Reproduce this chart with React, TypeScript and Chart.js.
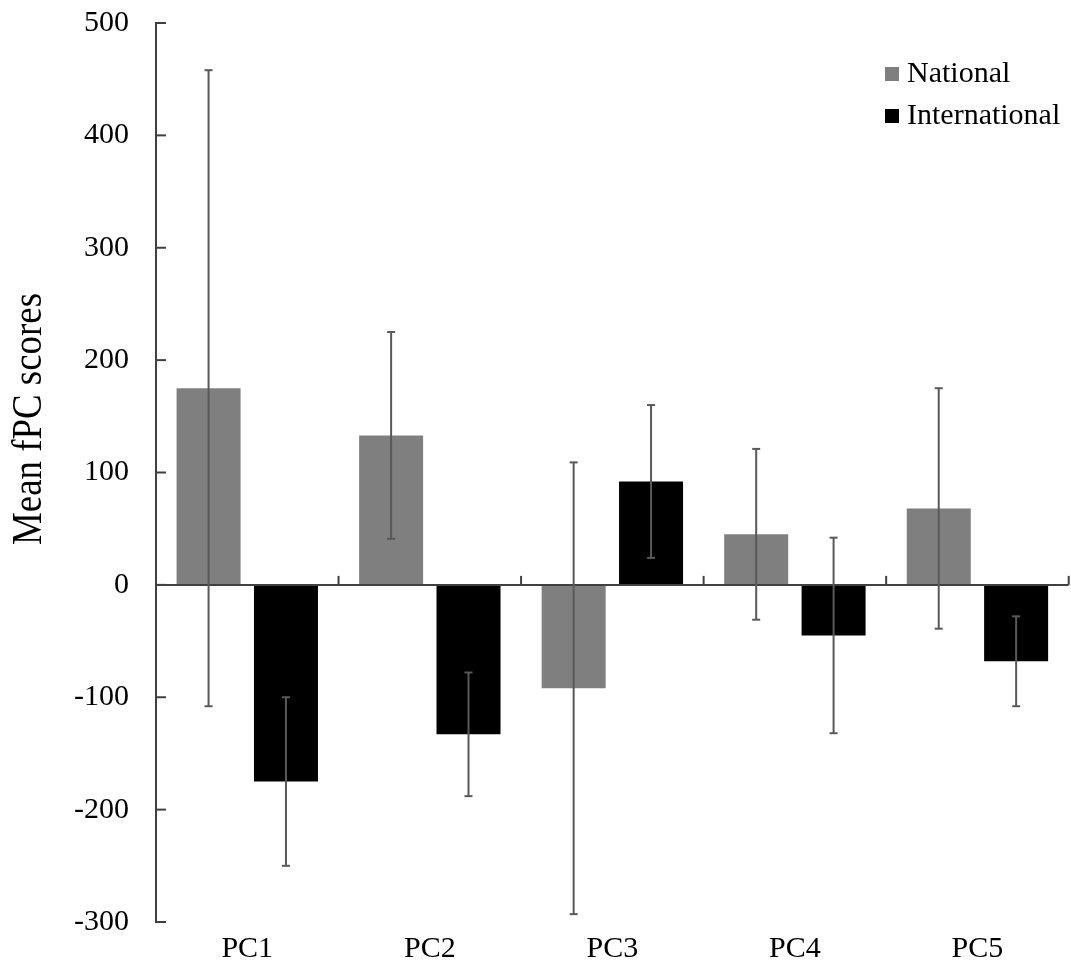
import React, { useEffect, useRef } from 'react';
import { Chart, registerables } from 'chart.js';

Chart.register(...registerables);

// Component scores per principal component
const categories = ['PC1', 'PC2', 'PC3', 'PC4', 'PC5'];
const seriesNames = ['National', 'International'];
const nationalMeans = [175, 133, -92, 45, 68];
const internationalMeans = [-175, -133, 92, -45, -68];
const nationalErrors = [283, 92, 201, 76, 107];
const internationalErrors = [75, 55, 68, 87, 40];
const yMin = -300;
const yMax = 500;
const yStep = 100;
const yTitle = 'Mean fPC scores';

const WIDTH = 1071;
const HEIGHT = 968;
const FONT = '"Liberation Serif", "Times New Roman", serif';
const AXIS_COLOR = '#404040';
const ERR_COLOR = '#595959';
const seriesColors = ['#7f7f7f', '#000000'];

const line = (ctx: CanvasRenderingContext2D, x1: number, y1: number, x2: number, y2: number) => {
  ctx.beginPath();
  ctx.moveTo(x1, y1);
  ctx.lineTo(x2, y2);
  ctx.stroke();
};

// Error bars, zero baseline, inward tick marks, legend and rotated axis title
const decorPlugin = {
  id: 'decor',
  afterDatasetsDraw(chart: any) {
    const { ctx, chartArea, scales } = chart;
    const x = scales.x;
    const y = scales.y;
    ctx.save();

    // zero baseline
    const y0 = y.getPixelForValue(0);
    ctx.strokeStyle = AXIS_COLOR;
    ctx.lineWidth = 2;
    line(ctx, chartArea.left, y0, chartArea.right, y0);

    // category boundary ticks pointing up from the baseline
    const half = (x.getPixelForValue(1) - x.getPixelForValue(0)) / 2;
    categories.forEach((_, i) => {
      const bx = x.getPixelForValue(i) + half;
      line(ctx, bx, y0, bx, y0 - 9);
    });

    // value-axis ticks pointing into the plot
    y.ticks.forEach((t: any) => {
      const py = y.getPixelForValue(t.value);
      line(ctx, chartArea.left, py, chartArea.left + 10, py);
    });

    // error bars
    ctx.strokeStyle = ERR_COLOR;
    ctx.lineWidth = 2;
    chart.data.datasets.forEach((ds: any, di: number) => {
      const meta = chart.getDatasetMeta(di);
      meta.data.forEach((bar: any, i: number) => {
        const v = ds.data[i];
        const e = ds.errors[i];
        const yt = y.getPixelForValue(v + e);
        const yb = y.getPixelForValue(v - e);
        const cx = bar.x;
        line(ctx, cx, yt, cx, yb);
        line(ctx, cx - 4, yt, cx + 4, yt);
        line(ctx, cx - 4, yb, cx + 4, yb);
      });
    });
    ctx.restore();
  },
  afterDraw(chart: any) {
    const { ctx } = chart;
    ctx.save();

    // legend
    ctx.font = `30px ${FONT}`;
    ctx.textBaseline = 'alphabetic';
    ctx.textAlign = 'left';
    seriesNames.forEach((name, i) => {
      const base = 82 + i * 42;
      ctx.fillStyle = seriesColors[i];
      ctx.fillRect(885, base - 15, 14, 14);
      ctx.fillStyle = '#000000';
      ctx.fillText(name, 907, base);
    });

    // rotated y-axis title
    ctx.translate(28, 419);
    ctx.rotate(-Math.PI / 2);
    ctx.font = `42px ${FONT}`;
    const w = ctx.measureText(yTitle).width;
    ctx.scale(252 / w, 1);
    ctx.textAlign = 'center';
    ctx.textBaseline = 'middle';
    ctx.fillStyle = '#000000';
    ctx.fillText(yTitle, 0, 2);
    ctx.restore();
  },
};

export default function App() {
  const canvasRef = useRef<HTMLCanvasElement>(null);

  useEffect(() => {
    const canvas = canvasRef.current;
    if (!canvas) return;
    const chart = new Chart(canvas, {
      type: 'bar',
      data: {
        labels: categories,
        datasets: [
          {
            label: seriesNames[0],
            data: nationalMeans,
            errors: nationalErrors,
            backgroundColor: seriesColors[0],
            categoryPercentage: 0.848,
            barPercentage: 0.827,
          } as any,
          {
            label: seriesNames[1],
            data: internationalMeans,
            errors: internationalErrors,
            backgroundColor: seriesColors[1],
            categoryPercentage: 0.848,
            barPercentage: 0.827,
          } as any,
        ],
      },
      options: {
        responsive: false,
        animation: false,
        devicePixelRatio: 1,
        layout: { autoPadding: false, padding: { left: 0, top: 23, right: 2.3, bottom: 0 } },
        plugins: {
          legend: { display: false },
          tooltip: { enabled: false },
        },
        scales: {
          x: {
            type: 'category',
            grid: { display: false, drawTicks: false },
            border: { display: false },
            ticks: {
              color: '#000000',
              font: { family: FONT, size: 30 },
              padding: 9,
              maxRotation: 0,
            },
            afterFit: (scale: any) => {
              scale.height = 46;
              scale.paddingLeft = 0;
              scale.paddingRight = 0;
            },
          },
          y: {
            min: yMin,
            max: yMax,
            grid: { display: false, drawTicks: false },
            border: { display: true, color: AXIS_COLOR, width: 2 },
            ticks: {
              stepSize: yStep,
              color: '#000000',
              font: { family: FONT, size: 30 },
              padding: 27,
            },
            afterFit: (scale: any) => {
              scale.width = 156;
              scale.paddingTop = 0;
              scale.paddingBottom = 0;
            },
          },
        },
      },
      plugins: [decorPlugin],
    });
    return () => chart.destroy();
  }, []);

  return (
    <div style={{ position: 'absolute', left: 0, top: 0, width: WIDTH, height: HEIGHT, background: '#ffffff' }}>
      <canvas ref={canvasRef} width={WIDTH} height={HEIGHT} />
    </div>
  );
}
